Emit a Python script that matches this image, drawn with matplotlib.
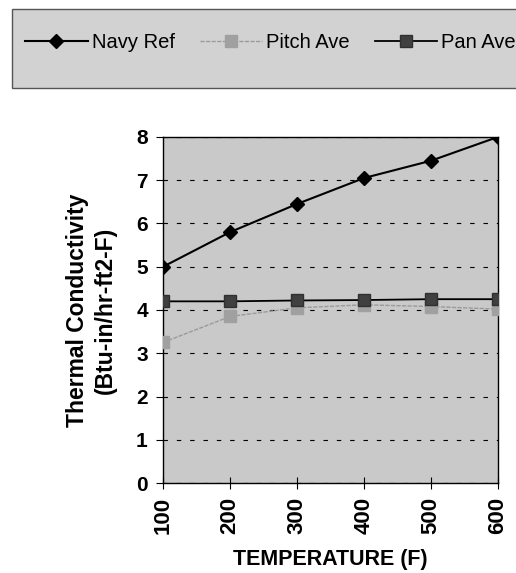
import numpy as np
import matplotlib.pyplot as plt
from matplotlib.patches import Rectangle

plt.rcParams['font.family'] = ['Liberation Sans', 'DejaVu Sans']

# temperaturas y conductividades
temps = [100, 200, 300, 400, 500, 600]
navy_ref = [5.0, 5.8, 6.45, 7.05, 7.45, 8.0]
pitch_ave = [3.25, 3.85, 4.05, 4.12, 4.08, 4.02]
pan_ave = [4.2, 4.2, 4.22, 4.23, 4.25, 4.25]

fig = plt.figure(figsize=(5.16, 5.73), dpi=100)
ax = fig.add_axes([0.316, 0.157, 0.649, 0.604])
ax.set_facecolor('#c9c9c9')

ax.plot(temps, navy_ref, color='black', lw=1.5, marker='D', ms=7,
        mfc='black', mec='black', label='Navy Ref', zorder=4)
ax.plot(temps, pitch_ave, color='#9a9a9a', lw=1.0, ls=(0, (3, 1)), marker='s', ms=8,
        mfc='#a0a0a0', mec='#a0a0a0', label='Pitch Ave', zorder=3)
ax.plot(temps, pan_ave, color='black', lw=1.3, marker='s', ms=9,
        mfc='#404040', mec='#303030', label='Pan Ave', zorder=3)

ax.set_xlim(100, 600)
ax.set_ylim(0, 8)
ax.set_xticks(temps)
ax.set_yticks(range(0, 9))
ax.yaxis.grid(True, color='black', ls=(0, (4, 8)), lw=0.8)
ax.set_axisbelow(True)

for s in ax.spines.values():
    s.set_linewidth(1.0)

ax.tick_params(axis='x', direction='inout', length=8, labelsize=16,
               labelrotation=90, pad=6)
ax.tick_params(axis='y', direction='out', length=5, labelsize=15, pad=6)
for lab in ax.get_xticklabels() + ax.get_yticklabels():
    lab.set_fontweight('bold')

ax.set_ylabel('Thermal Conductivity\n(Btu-in/hr-ft2-F)', fontsize=16.5,
              fontweight='bold', labelpad=14, linespacing=1.25)
ax.set_xlabel('TEMPERATURE (F)', fontsize=15.5, fontweight='bold', labelpad=11)

# caja de la leyenda
fig.patches.append(Rectangle((0.023, 0.846), 1.0, 0.138, transform=fig.transFigure,
                             facecolor='#d2d2d2', edgecolor='#555555', lw=1.0))
fig.legend(loc='center left', bbox_to_anchor=(0.033, 0.925), ncol=3, frameon=False,
           fontsize=14.5, handlelength=3.1, handletextpad=0.2, columnspacing=1.25,
           borderaxespad=0)

plt.savefig('out.png', dpi=100)
